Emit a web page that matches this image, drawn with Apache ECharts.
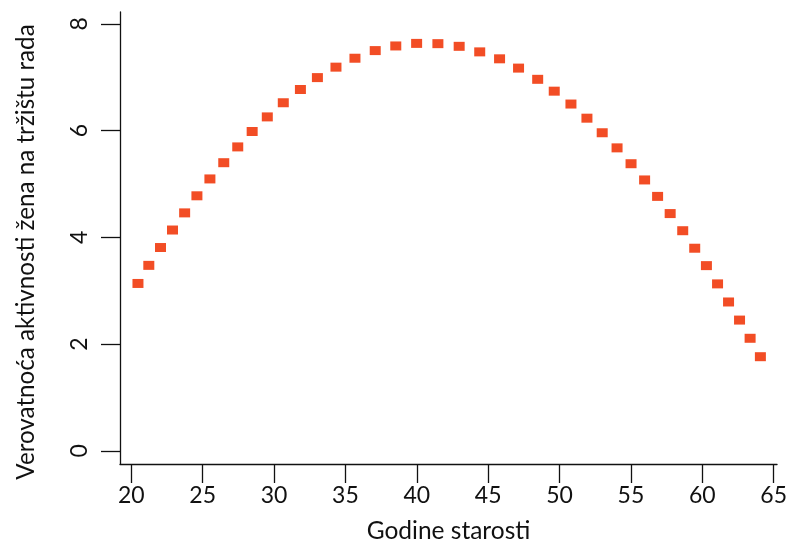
<!DOCTYPE html>
<html>
<head>
<meta charset="utf-8">
<script src="https://cdn.jsdelivr.net/npm/echarts@6/dist/echarts.min.js"></script>
<style>
html,body{margin:0;padding:0;background:#fff;}
#chart{width:790px;height:549px;}
</style>
</head>
<body>
<div id="chart"></div>
<script>
// Age (years)
const ages = [20.47, 21.23, 22.05, 22.89, 23.74, 24.60, 25.51, 26.48, 27.46, 28.47,
  29.53, 30.65, 31.85, 33.04, 34.34, 35.67, 37.09, 38.53, 39.99, 41.48,
  42.97, 44.41, 45.80, 47.13, 48.47, 49.63, 50.80, 51.92, 52.99, 54.03,
  55.01, 55.96, 56.87, 57.75, 58.63, 59.47, 60.29, 61.07, 61.84, 62.61,
  63.35, 64.07];
// Probability of labour-market participation
const probability = [3.137, 3.476, 3.810, 4.138, 4.459, 4.779, 5.095, 5.399, 5.695, 5.984,
  6.257, 6.522, 6.770, 6.993, 7.189, 7.356, 7.499, 7.586, 7.634, 7.629,
  7.579, 7.475, 7.345, 7.171, 6.961, 6.739, 6.498, 6.233, 5.960, 5.677,
  5.380, 5.076, 4.768, 4.446, 4.125, 3.797, 3.471, 3.129, 2.790, 2.451,
  2.110, 1.765];
const xTicks = [20, 25, 30, 35, 40, 45, 50, 55, 60, 65];
const yTicks = [0, 2, 4, 6, 8];
const xTitle = 'Godine starosti';
const yTitle = 'Verovatnoća aktivnosti žena na tržištu rada';

const FONT = 'Lato, "Noto Sans", sans-serif';
const chart = echarts.init(document.getElementById('chart'), null, {renderer: 'canvas'});
chart.setOption({
  animation: false,
  backgroundColor: '#ffffff',
  grid: {left: 120, right: 10, top: 12, bottom: 80, containLabel: false},
  xAxis: {
    type: 'value',
    min: 19.212, max: 65.237,
    name: xTitle, nameLocation: 'middle', nameGap: 55,
    nameTextStyle: {fontFamily: FONT, fontSize: 24.5, color: '#111'},
    axisLine: {show: true, onZero: false, lineStyle: {color: '#111', width: 1.3}},
    axisTick: {show: true, length: 19, customValues: xTicks, lineStyle: {color: '#111', width: 1.3}},
    axisLabel: {customValues: xTicks, margin: 20, fontFamily: FONT, fontSize: 23, color: '#111'},
    splitLine: {show: false}
  },
  yAxis: {
    type: 'value',
    min: -0.245, max: 8.222,
    name: yTitle, nameLocation: 'middle', nameGap: 82, nameRotate: 90,
    nameTextStyle: {fontFamily: FONT, fontSize: 24.2, color: '#111', padding: [0, 28, 0, 0]},
    axisLine: {show: true, onZero: false, lineStyle: {color: '#111', width: 1.3}},
    axisTick: {show: true, length: 19, customValues: yTicks, lineStyle: {color: '#111', width: 1.3}},
    axisLabel: {customValues: yTicks, rotate: 90, margin: 29, fontFamily: FONT, fontSize: 23, color: '#111'},
    splitLine: {show: false}
  },
  series: [{
    type: 'scatter',
    data: ages.map((a, i) => [a, probability[i]]),
    symbol: 'rect',
    symbolSize: [11, 9],
    itemStyle: {color: '#F24D25', opacity: 1}
  }]
});
</script>
</body>
</html>
